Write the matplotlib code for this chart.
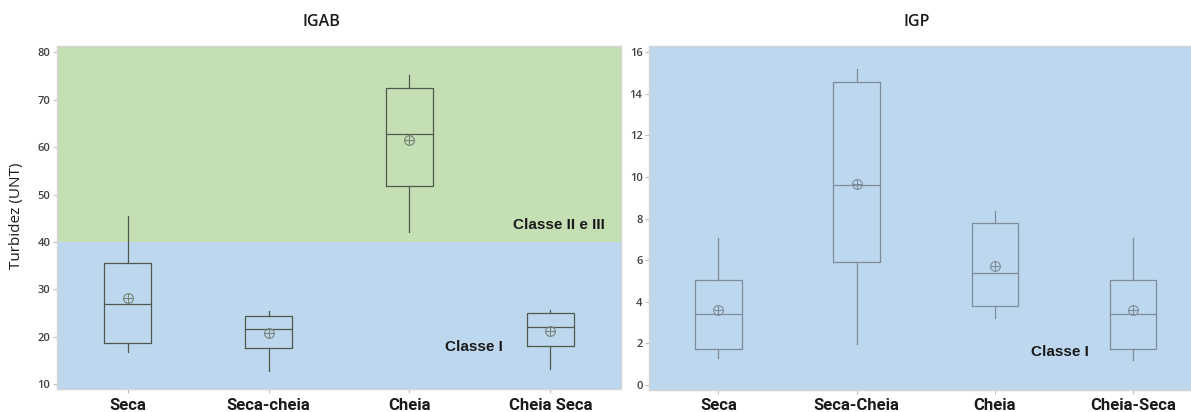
import matplotlib
matplotlib.use("Agg")
import matplotlib.pyplot as plt
from matplotlib import font_manager

# Turbidity (UNT) per hydrological period
igab_categories = ["Seca", "Seca-cheia", "Cheia", "Cheia Seca"]
igab_whislo = [16.8, 12.7, 42.1, 13.1]
igab_q1 = [18.7, 17.7, 51.8, 18.0]
igab_med = [27.0, 21.6, 62.7, 22.0]
igab_q3 = [35.6, 24.4, 72.4, 25.0]
igab_whishi = [45.5, 25.5, 75.3, 25.6]
igab_mean = [28.1, 20.8, 61.6, 21.2]

igp_categories = ["Seca", "Seca-Cheia", "Cheia", "Cheia-Seca"]
igp_whislo = [1.28, 1.97, 3.21, 1.22]
igp_q1 = [1.72, 5.90, 3.80, 1.72]
igp_med = [3.41, 9.60, 5.37, 3.41]
igp_q3 = [5.05, 14.58, 7.79, 5.05]
igp_whishi = [7.05, 15.18, 8.38, 7.05]
igp_mean = [3.60, 9.68, 5.71, 3.60]

available = {f.name for f in font_manager.fontManager.ttflist}
label_font = "Roboto" if "Roboto" in available else "DejaVu Sans"
base = "Open Sans" if "Open Sans" in available else "DejaVu Sans"
plt.rcParams["font.family"] = [base, "DejaVu Sans"]

GREEN = "#c5dfb4"
BLUE = "#bdd7ee"


def stats(whislo, q1, med, q3, whishi, mean):
    return [dict(whislo=a, q1=b, med=c, q3=d, whishi=e, mean=f, fliers=[])
            for a, b, c, d, e, f in zip(whislo, q1, med, q3, whishi, mean)]


def draw_panel(ax, st, cats, line_color, mean_color):
    pos = list(range(1, len(cats) + 1))
    lp = dict(color=line_color, linewidth=0.9)
    ax.bxp(st, positions=pos, widths=0.335, showmeans=False, showcaps=False,
           boxprops=lp, medianprops=lp, whiskerprops=lp, capprops=lp,
           patch_artist=False)
    means = [s["mean"] for s in st]
    ax.plot(pos, means, linestyle="none", marker="o", markersize=7,
            markerfacecolor="none", markeredgecolor=mean_color, markeredgewidth=0.8,
            zorder=5)
    ax.plot(pos, means, linestyle="none", marker="+", markersize=7,
            markeredgecolor=mean_color, markeredgewidth=0.8, zorder=5)
    ax.set_xlim(0.5, len(cats) + 0.5)
    ax.set_xticks(pos)
    ax.set_xticklabels(cats, fontsize=12, fontweight="bold",
                       family=[label_font, "DejaVu Sans"], color="#1a1a1a")
    for sp in ax.spines.values():
        sp.set_color("#d4d4d4")
        sp.set_linewidth(1.0)
    ax.tick_params(axis="both", color="#bfbfbf", length=3, width=0.8)
    ax.tick_params(axis="y", labelsize=8, labelcolor="#404040", pad=2)
    ax.tick_params(axis="x", pad=3)
    for lab in ax.get_yticklabels():
        lab.set_fontweight("semibold")


fig = plt.figure(figsize=(11.91, 4.12), dpi=100)
class_font = ["Liberation Sans", "DejaVu Sans"]

# IGAB panel
ax1 = fig.add_axes([0.0481, 0.0551, 0.4731, 0.834])
ax1.set_ylim(8.9, 81.4)
ax1.axhspan(40, 81.4, color=GREEN, zorder=0, linewidth=0)
ax1.axhspan(8.9, 40, color=BLUE, zorder=0, linewidth=0)
draw_panel(ax1, stats(igab_whislo, igab_q1, igab_med, igab_q3, igab_whishi, igab_mean),
           igab_categories, "#4f5a4f", "#76857a")
ax1.set_yticks([10, 20, 30, 40, 50, 60, 70, 80])
ax1.text(4.39, 43.5, "Classe II e III", ha="right", va="center", fontsize=11,
         fontweight="bold", color="#1a1a1a", family=class_font)
ax1.text(3.66, 17.9, "Classe I", ha="right", va="center", fontsize=11,
         fontweight="bold", color="#1a1a1a", family=class_font)
fig.text(17 / 1191, 1 - 216 / 412, "Turbidez (UNT)", rotation=90, ha="center",
         va="center", fontsize=11, color="#1a1a1a")
fig.text(321 / 1191, 1 - 22 / 412, "IGAB", ha="center", va="center", fontsize=11.5,
         color="#1a1a1a", fontweight="semibold")

# IGP panel
ax2 = fig.add_axes([0.5452, 0.0534, 0.4641, 0.8349])
ax2.set_ylim(-0.24, 16.3)
ax2.set_facecolor(BLUE)
draw_panel(ax2, stats(igp_whislo, igp_q1, igp_med, igp_q3, igp_whishi, igp_mean),
           igp_categories, "#7f8d9b", "#7f8d9b")
ax2.set_yticks([0, 2, 4, 6, 8, 10, 12, 14, 16])
ax2.text(3.68, 1.6, "Classe I", ha="right", va="center", fontsize=11,
         fontweight="bold", color="#1a1a1a", family=class_font)
fig.text(917 / 1191, 1 - 22 / 412, "IGP", ha="center", va="center", fontsize=11.5,
         color="#1a1a1a", fontweight="semibold")

fig.savefig("out.png", dpi=100, facecolor="white")
